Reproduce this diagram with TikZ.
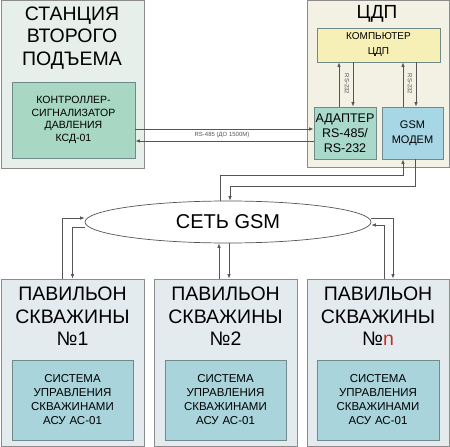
\documentclass[tikz,border=0pt]{standalone}
\usepackage{fontspec}
\setmainfont{Liberation Sans}
\usetikzlibrary{shapes.geometric,arrows.meta}
\definecolor{stationbg}{HTML}{E6EFEA}
\definecolor{cdpbg}{HTML}{F3F1E4}
\definecolor{pavbg}{HTML}{E3EBEF}
\definecolor{ksdfill}{HTML}{A8D7C4}
\definecolor{adapterfill}{HTML}{A9D9CA}
\definecolor{modemfill}{HTML}{A7D6E4}
\definecolor{pcfill}{HTML}{F6EFB6}
\definecolor{sysfill}{HTML}{A9D4DC}
\definecolor{framegray}{HTML}{8C8C8C}
\definecolor{linkgray}{HTML}{555555}
\definecolor{nred}{HTML}{C0302A}

\begin{document}
\begin{tikzpicture}[
            x=1pt, y=-1pt,
            outerbox/.style={rectangle, draw=framegray, line width=0.8pt, inner sep=0pt},
            innerbox/.style={rectangle, draw=framegray!80!teal, line width=0.8pt, align=center, inner sep=0pt},
            bigtitle/.style={align=center, font=\fontsize{19.5}{22.5}\selectfont},
            tiny/.style={font=\fontsize{6}{7}\selectfont, text=linkgray},
            link/.style={draw=linkgray, line width=0.7pt, -{Latex[length=4.5pt,width=3.5pt]}}
        ]
            \useasboundingbox (0,0) rectangle (450,447);

            % Station
            \node[outerbox, fill=stationbg, minimum width=143pt, minimum height=168pt] (station) at (72.5,84) {};
            \node[bigtitle] (stationtitle) at (72,38) {СТАНЦИЯ\\ВТОРОГО\\ПОДЪЕМА};
            \node[innerbox, fill=ksdfill, minimum width=123pt, minimum height=76pt, text width=115pt,
                  font=\fontsize{10.5}{12.6}\selectfont] (ksd) at (73.5,120)
                {КОНТРОЛЛЕР-\\СИГНАЛИЗАТОР\\ДАВЛЕНИЯ\\КСД-01};

            % CDP
            \node[outerbox, fill=cdpbg, minimum width=142pt, minimum height=167pt] (cdp) at (378,83.5) {};
            \node[font=\fontsize{19}{21}\selectfont] (cdptitle) at (377,14) {ЦДП};
            \node[innerbox, fill=pcfill, minimum width=123pt, minimum height=34pt, text width=115pt,
                  font=\fontsize{10}{15}\selectfont] (computer) at (378.5,45) {КОМПЬЮТЕР\\ЦДП};
            \node[innerbox, fill=adapterfill, minimum width=62pt, minimum height=52pt, text width=60pt,
                  font=\fontsize{12.5}{15}\selectfont] (adapter) at (345,133) {АДАПТЕР\\RS-485/\\RS-232};
            \node[innerbox, fill=modemfill, minimum width=61pt, minimum height=52pt, text width=58pt,
                  font=\fontsize{11}{15}\selectfont] (modem) at (412.5,133) {GSM\\МОДЕМ};

            \draw[link] ([xshift=-6pt]adapter.north) -- ([xshift=-6pt]adapter.north |- computer.south);
            \draw[link] ([xshift=8pt]adapter.north |- computer.south) -- ([xshift=8pt]adapter.north);
            \node[tiny, rotate=-90] (rsadapter) at (347,84) {RS-232};
            \draw[link] ([xshift=-9.5pt]modem.north) -- ([xshift=-9.5pt]modem.north |- computer.south);
            \draw[link] ([xshift=3.5pt]modem.north |- computer.south) -- ([xshift=3.5pt]modem.north);
            \node[tiny, rotate=-90] (rsmodem) at (410,84) {RS-232};

            % RS-485 line
            \draw[link] ([yshift=-9pt]ksd.east) -- ([yshift=-9pt]ksd.east -| adapter.west);
            \draw[link] ([yshift=-21pt]ksd.east -| adapter.west) -- ([yshift=-21pt]ksd.east);
            \node[tiny] (rs485) at (222,135) {RS-485 (ДО 1500М)};

            % GSM network
            \node[ellipse, draw=linkgray, line width=0.7pt, fill=white, minimum width=286pt, minimum height=42pt,
                  inner sep=0pt, font=\fontsize{20}{22}\selectfont] (net) at (228,222) {СЕТЬ GSM};
            \draw[link] ([xshift=-8pt]net.north) -- ++(0,-25) -| ([xshift=-9.5pt]modem.south);
            \draw[link] ([xshift=3pt]modem.south) -- ++(0,27) -| ([xshift=2pt]net.north);

            % Pavilions
            \node[outerbox, fill=pavbg, minimum width=143pt, minimum height=167pt] (pav1) at (72.5,362.5) {};
            \node[outerbox, fill=pavbg, minimum width=143pt, minimum height=167pt] (pav2) at (225.5,362.5) {};
            \node[outerbox, fill=pavbg, minimum width=142pt, minimum height=167pt] (pavn) at (378,362.5) {};
            \node[bigtitle] (pav1title) at (72.5,316.5) {ПАВИЛЬОН\\СКВАЖИНЫ\\№1};
            \node[bigtitle] (pav2title) at (225.5,316.5) {ПАВИЛЬОН\\СКВАЖИНЫ\\№2};
            \node[bigtitle] (pavntitle) at (378,316.5) {ПАВИЛЬОН\\СКВАЖИНЫ\\№\textcolor{nred}{n}};
            \node[innerbox, fill=sysfill, minimum width=121pt, minimum height=80pt, text width=115pt,
                  font=\fontsize{11.5}{14}\selectfont] (sys1) at (72.5,400) {СИСТЕМА\\УПРАВЛЕНИЯ\\СКВАЖИНАМИ\\АСУ АС-01};
            \node[innerbox, fill=sysfill, minimum width=121pt, minimum height=80pt, text width=115pt,
                  font=\fontsize{11.5}{14}\selectfont] (sys2) at (225.5,400) {СИСТЕМА\\УПРАВЛЕНИЯ\\СКВАЖИНАМИ\\АСУ АС-01};
            \node[innerbox, fill=sysfill, minimum width=122pt, minimum height=80pt, text width=115pt,
                  font=\fontsize{11.5}{14}\selectfont] (sysn) at (378,400) {СИСТЕМА\\УПРАВЛЕНИЯ\\СКВАЖИНАМИ\\АСУ АС-01};

            \draw[link] ([xshift=-10.5pt]pav1.north) |- ([yshift=4pt]net.west);
            \draw[link] ([yshift=-5pt]net.west) -| (pav1.north);
            \draw[link] ([xshift=-6.5pt]pav2.north) -- ([xshift=-6.5pt]pav2.north |- net.south);
            \draw[link] ([xshift=3.5pt]pav2.north |- net.south) -- ([xshift=3.5pt]pav2.north);
            \draw[link] ([yshift=4pt]net.east) -| ([xshift=15pt]pavn.north);
            \draw[link] ([xshift=6pt]pavn.north) |- ([yshift=-3pt]net.east);
        \end{tikzpicture}
\end{document}
